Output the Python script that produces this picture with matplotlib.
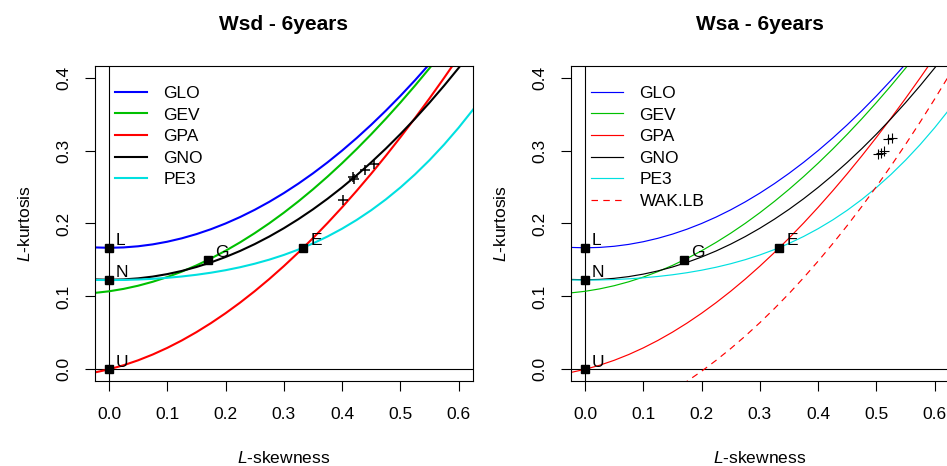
import matplotlib
matplotlib.use("Agg")
import matplotlib.pyplot as plt

plt.rcParams['font.family'] = ['Liberation Sans', 'DejaVu Sans']
plt.rcParams['mathtext.fontset'] = 'custom'
plt.rcParams['mathtext.it'] = 'Liberation Sans:italic'
plt.rcParams['mathtext.rm'] = 'Liberation Sans'

# L-kurtosis of each distribution, read at L-skewness steps of 0.025
t3 = [-0.050, -0.025, 0.000, 0.025, 0.050, 0.075, 0.100, 0.125, 0.150, 0.175,
      0.200, 0.225, 0.250, 0.275, 0.300, 0.325, 0.350, 0.375, 0.400, 0.425,
      0.450, 0.475, 0.500, 0.525, 0.550, 0.575, 0.600, 0.625, 0.650]
glo = [0.16875, 0.16719, 0.16667, 0.16719, 0.16875, 0.17135, 0.17500, 0.17969,
       0.18542, 0.19219, 0.20000, 0.20885, 0.21875, 0.22969, 0.24167, 0.25469,
       0.26875, 0.28385, 0.30000, 0.31719, 0.33542, 0.35469, 0.37500, 0.39635,
       0.41875, 0.44219, 0.46667, 0.49219, 0.51875]
gev = [0.10359, 0.10477, 0.10701, 0.11031, 0.11467, 0.12007, 0.12652, 0.13400,
       0.14251, 0.15204, 0.16259, 0.17415, 0.18671, 0.20026, 0.21480, 0.23033,
       0.24683, 0.26429, 0.28271, 0.30209, 0.32240, 0.34366, 0.36585, 0.38896,
       0.41299, 0.43793, 0.46378, 0.49053, 0.51819]
gpa = [-0.00758, -0.00440, 0.00000, 0.00560, 0.01238, 0.02032, 0.02941, 0.03963,
       0.05097, 0.06341, 0.07692, 0.09151, 0.10714, 0.12382, 0.14151, 0.16021,
       0.17991, 0.20058, 0.22222, 0.24482, 0.26835, 0.29281, 0.31818, 0.34446,
       0.37162, 0.39966, 0.42857, 0.45833, 0.48894]
gno = [0.12476, 0.12330, 0.12282, 0.12330, 0.12476, 0.12718, 0.13058, 0.13496,
       0.14032, 0.14667, 0.15402, 0.16236, 0.17172, 0.18209, 0.19349, 0.20592,
       0.21940, 0.23392, 0.24951, 0.26616, 0.28389, 0.30270, 0.32260, 0.34361,
       0.36573, 0.38897, 0.41335, 0.43888, 0.46559]
pe3 = [0.12316, 0.12259, 0.12240, 0.12259, 0.12316, 0.12412, 0.12551, 0.12734,
       0.12966, 0.13251, 0.13594, 0.14003, 0.14483, 0.15041, 0.15686, 0.16425,
       0.17266, 0.18217, 0.19288, 0.20487, 0.21822, 0.23302, 0.24935, 0.26727,
       0.28688, 0.30824, 0.33142, 0.35648, 0.38349]

wak_t3 = [0.150, 0.175, 0.200, 0.225, 0.250, 0.275, 0.300, 0.325, 0.350, 0.375,
          0.400, 0.425, 0.450, 0.475, 0.500, 0.525, 0.550, 0.575, 0.600, 0.625,
          0.650]
wak_lb = [-0.0292, -0.0164, -0.0026, 0.0124, 0.0285, 0.0457, 0.0640, 0.0834,
          0.1039, 0.1256, 0.1484, 0.1723, 0.1973, 0.2234, 0.2507, 0.2790,
          0.3085, 0.3391, 0.3708, 0.4036, 0.4376]

dist_names = ["GLO", "GEV", "GPA", "GNO", "PE3"]
dist_colors = ["#0000FF", "#00C000", "#FF0000", "#000000", "#00E0E0"]

special_names = ["L", "N", "U", "G", "E"]
special_t3 = [0.0, 0.0, 0.0, 0.1699, 0.3333]
special_t4 = [0.1667, 0.1226, 0.0, 0.1504, 0.1667]

wsd_t3 = [0.402, 0.419, 0.421, 0.440, 0.454]
wsd_t4 = [0.232, 0.264, 0.261, 0.273, 0.282]
wsa_t3 = [0.503, 0.508, 0.5125, 0.520, 0.526]
wsa_t4 = [0.2955, 0.2973, 0.299, 0.3155, 0.3174]

xticks = [0.0, 0.1, 0.2, 0.3, 0.4, 0.5, 0.6]
yticks = [0.0, 0.1, 0.2, 0.3, 0.4]

fig = plt.figure(figsize=(9.47, 4.66), dpi=100)
ax1 = fig.add_axes([0.1003, 0.1824, 0.3988, 0.676])
ax2 = fig.add_axes([0.6030, 0.1824, 0.3988, 0.676])


def panel(ax, title, px, py, lw, mew, wak=False):
    curves = [glo, gev, gpa, gno, pe3]
    handles = []
    for name, col, vals in zip(dist_names, dist_colors, curves):
        h, = ax.plot(t3, vals, color=col, lw=lw, label=name, zorder=2)
        handles.append(h)
    if wak:
        h, = ax.plot(wak_t3, wak_lb, color="#FF0000", lw=lw,
                     linestyle=(0, (5.5, 4.5)), label="WAK.LB", zorder=2)
        handles.append(h)
    ax.axhline(0, color="black", lw=0.8, zorder=1)
    ax.axvline(0, color="black", lw=0.8, zorder=1)
    ax.plot(special_t3, special_t4, "s", color="black", ms=5.3, zorder=4)
    for n, x, y in zip(special_names, special_t3, special_t4):
        ax.annotate(n, (x, y), xytext=(5, 2), textcoords="offset points",
                    ha="left", va="baseline", fontsize=12.5, zorder=5)
    ax.plot(px, py, "+", color="black", ms=6.8, mew=mew, zorder=3)

    ax.set_xlim(-0.024, 0.624)
    ax.set_ylim(-0.016, 0.416)
    ax.set_xticks(xticks, [f"{v:.1f}" for v in xticks])
    ax.set_yticks(yticks, [f"{v:.1f}" for v in yticks])
    ax.tick_params(axis="both", direction="out", length=7.2, width=0.8,
                   labelsize=12.5)
    ax.tick_params(axis="x", pad=11.2)
    ax.tick_params(axis="y", pad=9.6, labelrotation=90)
    for lab in ax.get_yticklabels():
        lab.set_verticalalignment("center")
    for s in ax.spines.values():
        s.set_linewidth(0.8)

    ax.set_xlabel(r"$\mathit{L}$-skewness", fontsize=12.5, va="baseline")
    ax.xaxis.set_label_coords(0.5, -0.26)
    ax.set_ylabel(r"$\mathit{L}$-kurtosis", fontsize=12.5)
    ax.yaxis.set_label_coords(-0.165, 0.5)
    ax.set_title(title, fontsize=15, fontweight="bold", y=1.114, pad=0)

    ax.legend(handles=handles, loc="upper left",
              bbox_to_anchor=(0.054, 0.937), frameon=False, borderpad=0,
              borderaxespad=0, handlelength=1.82, handletextpad=0.95,
              labelspacing=0.37, fontsize=12.5)


panel(ax1, "Wsd - 6years", wsd_t3, wsd_t4, lw=1.5, mew=1.1)
panel(ax2, "Wsa - 6years", wsa_t3, wsa_t4, lw=0.85, mew=0.8, wak=True)

fig.savefig("out.png", dpi=100)
